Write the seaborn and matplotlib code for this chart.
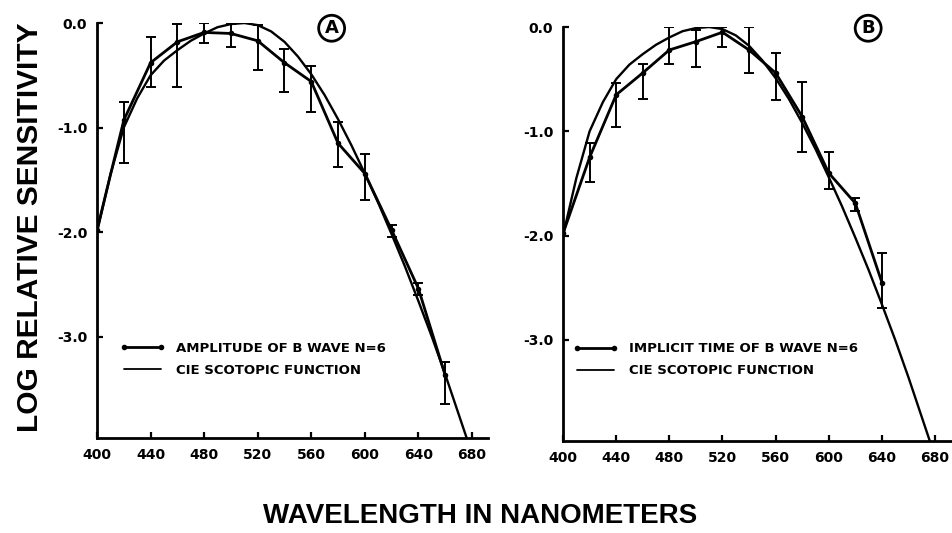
import numpy as np
import pandas as pd
import matplotlib
matplotlib.use("Agg")
import matplotlib.pyplot as plt
from matplotlib.lines import Line2D
import seaborn as sns

# CIE scotopic function (log relative sensitivity), 10 nm steps
cie_wavelength = [400, 410, 420, 430, 440, 450, 460, 470, 480, 490, 500, 510, 520, 530,
                  540, 550, 560, 570, 580, 590, 600, 610, 620, 630, 640, 650, 660, 670, 680]
cie_log_sens = [-2.00, -1.45, -1.00, -0.72, -0.50, -0.36, -0.26, -0.17, -0.10, -0.04, -0.01,
                0.00, -0.02, -0.08, -0.18, -0.32, -0.49, -0.69, -0.92, -1.17, -1.44, -1.72,
                -2.02, -2.33, -2.66, -3.00, -3.36, -3.74, -4.12]

# Panel A: amplitude of b wave (mean and error-bar limits)
amp_wavelength = [400, 420, 440, 460, 480, 500, 520, 540, 560, 580, 600, 620, 640, 660]
amp_mean = [-1.98, -0.93, -0.38, -0.18, -0.09, -0.10, -0.17, -0.38, -0.56, -1.15, -1.44,
            -1.98, -2.54, -3.37]
amp_upper = [np.nan, -0.76, -0.13, -0.01, 0.00, -0.01, -0.02, -0.25, -0.41, -0.95, -1.25,
             -1.93, -2.49, -3.24]
amp_lower = [np.nan, -1.34, -0.61, -0.61, -0.19, -0.23, -0.45, -0.66, -0.85, -1.38, -1.69,
             -2.05, -2.60, -3.64]

# Panel B: implicit time of b wave
imp_wavelength = [400, 420, 440, 460, 480, 500, 520, 540, 560, 580, 600, 620, 640]
imp_mean = [-1.98, -1.25, -0.65, -0.44, -0.22, -0.14, -0.05, -0.22, -0.44, -0.86, -1.40,
            -1.69, -2.45]
imp_upper = [np.nan, -1.11, -0.54, -0.35, 0.00, -0.03, 0.00, 0.00, -0.25, -0.53, -1.20,
             -1.64, -2.17]
imp_lower = [np.nan, -1.49, -0.96, -0.69, -0.35, -0.38, -0.19, -0.44, -0.70, -1.20, -1.55,
             -1.76, -2.69]

x_ticks = [400, 440, 480, 520, 560, 600, 640, 680]
y_ticks = [0.0, -1.0, -2.0, -3.0]
y_tick_labels = ["0.0", "-1.0", "-2.0", "-3.0"]

label_a = "AMPLITUDE OF B WAVE N=6"
label_b = "IMPLICIT TIME OF B WAVE N=6"
label_cie = "CIE SCOTOPIC FUNCTION"

sns.set_theme(style="ticks")
plt.rcParams["font.family"] = ["DejaVu Sans"]
plt.rcParams["font.weight"] = "bold"
plt.rcParams["text.color"] = "black"
plt.rcParams["axes.labelcolor"] = "black"
plt.rcParams["xtick.color"] = "black"
plt.rcParams["ytick.color"] = "black"

cie = pd.DataFrame({"wavelength": cie_wavelength, "log_sens": cie_log_sens})


def draw_panel(ax, wl, mean, upper, lower, data_label, legend_anchor):
    df = pd.DataFrame({"wavelength": wl, "mean": mean, "upper": upper, "lower": lower})
    sns.lineplot(data=cie, x="wavelength", y="log_sens", ax=ax, color="black",
                 linewidth=1.7, sort=True)
    sns.lineplot(data=df, x="wavelength", y="mean", ax=ax, color="black",
                 linewidth=2.0, marker="o", markersize=4, markeredgewidth=0, sort=True)
    bars = df.dropna()
    ax.errorbar(bars["wavelength"], bars["mean"],
                yerr=[bars["mean"] - bars["lower"], bars["upper"] - bars["mean"]],
                fmt="none", ecolor="black", elinewidth=1.4, capsize=3.5, capthick=1.4)

    ax.set_xlim(400, 692)
    ax.set_ylim(-3.97, 0.0)
    ax.set_xticks(x_ticks)
    ax.set_yticks(y_ticks)
    ax.set_yticklabels(y_tick_labels)
    ax.set_xlabel("")
    ax.set_ylabel("")
    for side in ("top", "right"):
        ax.spines[side].set_visible(False)
    for side in ("left", "bottom"):
        ax.spines[side].set_linewidth(2.0)
        ax.spines[side].set_color("black")
    ax.tick_params(axis="both", direction="in", length=4, width=1.6, colors="black",
                   labelcolor="black", labelsize=10, pad=7)
    for t in ax.get_xticklabels() + ax.get_yticklabels():
        t.set_fontweight("bold")
    ax.set_facecolor("white")

    handles = [
        Line2D([0], [0], color="black", linewidth=2.0, marker="o", markersize=4,
               markeredgewidth=0),
        Line2D([0], [0], color="black", linewidth=1.3),
    ]
    leg = ax.legend(handles, [data_label, label_cie], loc="center left",
                    bbox_to_anchor=legend_anchor, frameon=False, borderpad=0,
                    borderaxespad=0, handlelength=3.4, handletextpad=0.8,
                    labelspacing=0.7, numpoints=2,
                    prop={"weight": "bold", "size": 9.5})
    for t in leg.get_texts():
        t.set_color("black")
    return leg


fig = plt.figure(figsize=(9.53, 5.33), dpi=100)
fig.patch.set_facecolor("white")

ax_a = fig.add_axes([0.1018, 0.1782, 0.4103, 0.7786])
ax_b = fig.add_axes([0.5908, 0.1726, 0.4071, 0.7767])

draw_panel(ax_a, amp_wavelength, amp_mean, amp_upper, amp_lower, label_a, (0.059, 0.19))
draw_panel(ax_b, imp_wavelength, imp_mean, imp_upper, imp_lower, label_b, (0.026, 0.196))

circle = dict(boxstyle="circle,pad=0.22", facecolor="white", edgecolor="black", linewidth=2.0)
fig.text(0.348, 0.947, "A", ha="center", va="center", fontsize=13, fontweight="bold",
         color="black", bbox=circle)
fig.text(0.911, 0.947, "B", ha="center", va="center", fontsize=13, fontweight="bold",
         color="black", bbox=circle)

fig.text(0.031, 0.574, "LOG RELATIVE SENSITIVITY", rotation=90, ha="center", va="center",
         fontsize=21.5, fontweight="bold", color="black",
         family=["Liberation Sans", "DejaVu Sans"])
fig.text(0.504, 0.032, "WAVELENGTH IN NANOMETERS", ha="center", va="center",
         fontsize=20, fontweight="bold", color="black",
         family=["Liberation Sans", "DejaVu Sans"])

fig.savefig("out.png", dpi=100, facecolor="white")
